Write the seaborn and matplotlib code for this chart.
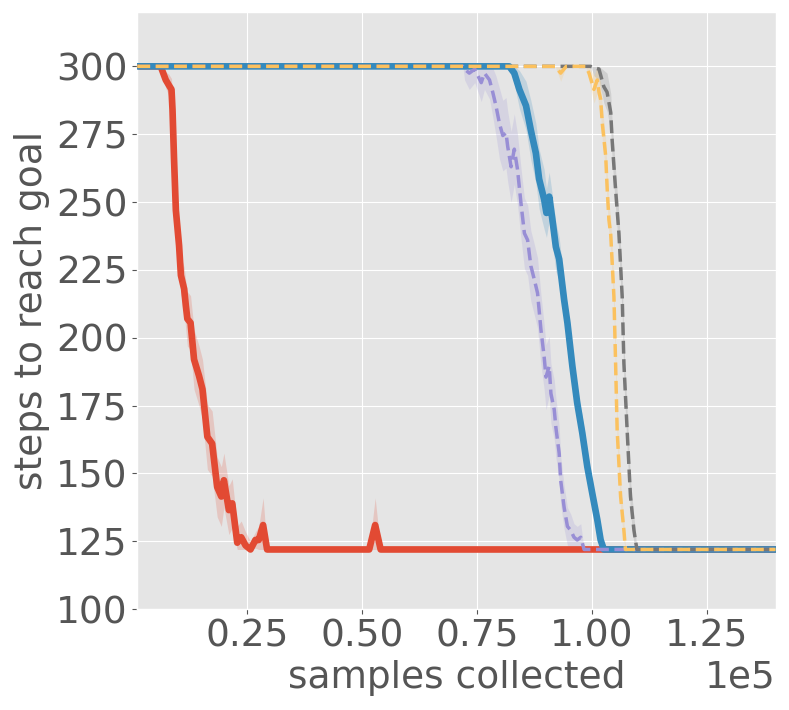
import matplotlib

matplotlib.use("Agg")
import matplotlib.pyplot as plt
import numpy as np
import seaborn as sns

# samples collected vs mean steps to reach goal (+ spread across runs)
red_x = [1000, 6100, 7200, 7900, 8450, 8670, 9000, 9400, 10100, 10500, 11200, 11560,
         11900, 12600, 13360, 14440, 15200, 16260, 17300, 18400, 19300, 19860, 20950,
         21680, 22770, 23630, 24570, 25650, 26730, 27450, 28400, 29270, 51500, 52800,
         54000, 140000]
red_y = [300, 300, 295, 293, 291.5, 284, 266, 247, 234, 223, 218, 212, 207, 205.5, 192,
         186, 181, 163.5, 161, 145, 141.5, 147.5, 136.5, 139, 124.5, 126.5, 123.5, 122,
         125.5, 125.5, 131, 122, 122, 131, 122, 122]
red_err = [0, 0, 3, 4, 4, 5, 5, 6, 7, 7, 8, 9, 10, 10, 11, 11, 11, 12, 12, 11, 11, 10,
           9, 9, 6, 6, 5, 3, 3, 5, 10, 0, 0, 10, 0, 0]

blue_x = [1000, 82000, 83100, 84200, 85650, 86700, 87800, 88500, 89600, 90100, 90700,
          91400, 92150, 92870, 93950, 94670, 95750, 96800, 97900, 99000, 100100, 101170,
          101900, 102600, 140000]
blue_y = [300, 300, 297.5, 291.5, 285.5, 276.5, 268, 258.5, 251, 246, 252, 243.5, 233.5,
          229, 214, 205.5, 189.5, 176, 165, 152.5, 142.5, 133, 125.5, 122, 122]
blue_err = [0, 0, 4, 7, 9, 11, 11, 11, 11, 9, 9, 9, 9, 8, 7, 6, 6, 6, 6, 6, 5, 4, 3, 0, 0]

purple_x = [1000, 71900, 72270, 73300, 74500, 75900, 76600, 77700, 78400, 79100, 79860,
            80600, 81300, 81660, 82400, 83100, 83800, 84560, 85300, 86000, 86700, 87450,
            88160, 88900, 89600, 90000, 90700, 91070, 91800, 92150, 92870, 93200, 93950,
            94670, 95400, 96100, 96800, 97570, 98300, 140000]
purple_y = [300, 300, 299, 297.5, 299, 294, 297.5, 295, 290.5, 285.5, 279, 274.5, 275.5,
            270.5, 263, 269.5, 262, 249.5, 238.5, 236, 226.5, 221.5, 216.5, 203, 193,
            185.5, 189.5, 179.5, 173.5, 167, 157.5, 147.5, 137.5, 130.5, 129, 126.5,
            125.5, 126.5, 122, 122]
purple_err = [0, 0, 4, 6, 5, 7, 6, 7, 9, 11, 13, 13, 13, 13, 13, 13, 13, 13, 13, 13, 13,
              13, 13, 13, 12, 12, 11, 11, 11, 11, 10, 9, 8, 7, 6, 5, 5, 5, 0, 0]

gray_x = [1000, 99700, 100450, 101540, 102600, 103300, 104100, 104400, 104800, 105160,
          105880, 106600, 106970, 107670, 108400, 109160, 109800, 140000]
gray_y = [300, 300, 299.5, 299, 292.5, 290.5, 283, 273, 263, 254.5, 238.5, 215, 190.5,
          166, 141.5, 129, 122, 122]
gray_err = [0, 0, 3, 4, 6, 7, 7, 7, 7, 7, 7, 7, 7, 7, 6, 5, 0, 0]

yellow_x = [1000, 92000, 93200, 94400, 98660, 99370, 100450, 101170, 101540, 101900,
            102260, 103000, 103340, 103700, 104100, 104800, 105160, 105500, 106250,
            106970, 107300, 140000]
yellow_y = [300, 300, 297.5, 300, 300, 297.5, 291.5, 295, 290.5, 288, 279, 267, 254.5,
            243.5, 238, 215, 190.5, 166, 141.5, 129, 122, 122]
yellow_err = [0, 0, 3, 0, 0, 3, 5, 5, 6, 6, 6, 6, 6, 6, 6, 6, 6, 6, 5, 4, 0, 0]

x_ticks = [25000, 50000, 75000, 100000, 125000]
y_ticks = [100, 125, 150, 175, 200, 225, 250, 275, 300]

plt.style.use("ggplot")
plt.rcParams["xtick.labelsize"] = 27
plt.rcParams["ytick.labelsize"] = 27

series = [
    (red_x, red_y, red_err, "#E24A33", "-", 4.8),
    (blue_x, blue_y, blue_err, "#348ABD", "-", 4.8),
    (purple_x, purple_y, purple_err, "#988ED5", "--", 2.5),
    (gray_x, gray_y, gray_err, "#777777", "--", 2.5),
    (yellow_x, yellow_y, yellow_err, "#FBC15E", "--", 2.5),
]

fig, ax = plt.subplots(figsize=(7.89, 7.10), dpi=100)
fig.subplots_adjust(left=0.174, right=0.983, top=0.983, bottom=0.142)

for xs, ys, err, color, ls, lw in series:
    ys = np.asarray(ys, dtype=float)
    err = np.asarray(err, dtype=float)
    lo = np.maximum(ys - err, 122)
    hi = np.minimum(ys + err, 300)
    ax.fill_between(xs, lo, hi, color=color, alpha=0.2, linewidth=0, zorder=1)

for i, (xs, ys, err, color, ls, lw) in enumerate(series):
    sns.lineplot(x=xs, y=ys, color=color, linestyle=ls, linewidth=lw,
                 estimator=None, errorbar=None, ax=ax, zorder=2 + i)

ax.set_xlim(1000, 140000)
ax.set_ylim(100, 320)
ax.set_xticks(x_ticks)
ax.set_yticks(y_ticks)
ax.ticklabel_format(axis="x", style="sci", scilimits=(0, 0))
ax.set_xlabel("samples collected", fontsize=27)
ax.set_ylabel("steps to reach goal", fontsize=27)

fig.savefig("out.png", dpi=100)
plt.close(fig)
